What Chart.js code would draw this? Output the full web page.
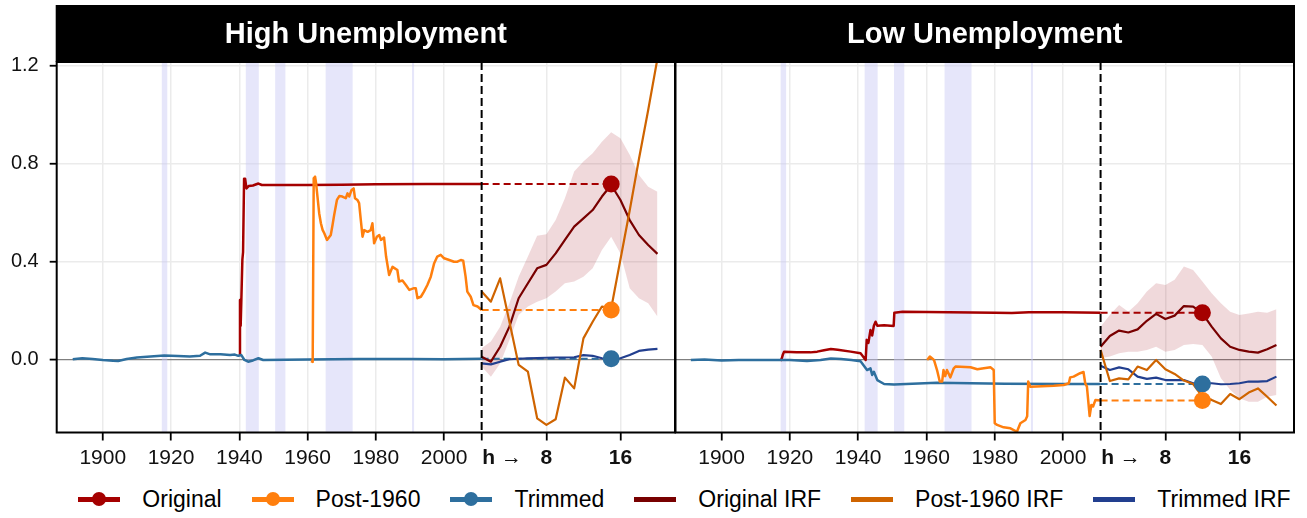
<!DOCTYPE html>
<html>
<head>
<meta charset="utf-8">
<script src="https://cdn.jsdelivr.net/npm/chart.js@4.4.0/dist/chart.umd.min.js"></script>
<style>
  body { margin: 0; background: #fff; width: 1307px; height: 518px; overflow: hidden; font-family: "Liberation Sans", Arial, sans-serif; }
  .panel { position: absolute; top: 0; height: 480px; }
  #highWrap { left: 0; width: 680px; }
  #lowWrap { left: 674px; width: 633px; }
  #legend { position: absolute; left: 62px; top: 480px; width: 1245px; height: 38px; display: flex; justify-content: center; align-items: center; font-size: 23px; color: #000; }
  .item { display: flex; align-items: center; margin: 0 15px; }
  .mk { position: relative; display: inline-block; width: 42px; height: 16px; margin-right: 22px; }
  .mk .ln { position: absolute; left: 0; top: 5.5px; width: 42px; height: 5px; }
  .mk .pt { position: absolute; left: 14px; top: 1px; width: 14px; height: 14px; border-radius: 50%; }
</style>
</head>
<body>
<div class="panel" id="highWrap"><canvas id="high"></canvas></div>
<div class="panel" id="lowWrap"><canvas id="low"></canvas></div>
<div id="legend"></div>
<script>
// ---- axes / labels ----
const PANEL_TITLES = ['High Unemployment', 'Low Unemployment'];
const YEAR_TICKS = [1900, 1920, 1940, 1960, 1980, 2000];
const H_TICKS = [8, 16];
const X_TICK_LABELS = ['1900', '1920', '1940', '1960', '1980', '2000', '       h \u2192', '8', '16'];
const Y_TICKS = [0, 0.4, 0.8, 1.2];
const SERIES_LABELS = ['Original', 'Post-1960', 'Trimmed', 'Original IRF', 'Post-1960 IRF', 'Trimmed IRF'];
const HORIZONS = [1, 2, 3, 4, 5, 6, 7, 8, 9, 10, 11, 12, 13, 14, 15, 16, 17, 18, 19, 20];
const WAR_PERIODS = [[1917.3, 1918.9], [1941.9, 1945.7], [1950.5, 1953.5], [1965.3, 1973.2], [1990.6, 1991.2]];

// ---- High unemployment: rolling estimates [year, value] ----
const HIGH_ORIGINAL = [[1940.0, 0.02], [1940.2, 0.245], [1940.4, 0.14], [1940.6, 0.245], [1940.9, 0.41], [1941.1, 0.44],
  [1941.4, 0.74], [1941.7, 0.74], [1942.1, 0.70], [1942.8, 0.71], [1944.0, 0.712], [1945.6, 0.72], [1946.6, 0.714],
  [1960, 0.714], [1970, 0.715], [1980, 0.717], [1995, 0.718], [2011, 0.718]];
const HIGH_POST1960 = [[1961.0, -0.005], [1961.5, -0.008], [1961.8, 0.741], [1962.2, 0.748], [1962.5, 0.721], [1962.9, 0.667],
  [1963.4, 0.599], [1963.9, 0.558], [1964.4, 0.531], [1964.9, 0.517], [1965.7, 0.49], [1966.8, 0.51], [1967.3, 0.55],
  [1967.8, 0.592], [1968.6, 0.653], [1969.3, 0.669], [1970.2, 0.667], [1971.2, 0.66], [1971.7, 0.68], [1972.2, 0.667],
  [1972.9, 0.694], [1973.5, 0.7], [1973.9, 0.66], [1974.6, 0.653], [1975.1, 0.64], [1975.6, 0.571], [1976.1, 0.503],
  [1976.6, 0.53], [1977.6, 0.523], [1978.5, 0.53], [1979.0, 0.558], [1979.5, 0.476], [1980.3, 0.503], [1981.0, 0.51],
  [1981.5, 0.49], [1982.4, 0.5], [1983.0, 0.422], [1983.9, 0.347], [1984.9, 0.38], [1986.3, 0.367], [1986.8, 0.32],
  [1987.8, 0.324], [1988.8, 0.306], [1989.8, 0.286], [1991.2, 0.293], [1991.7, 0.293], [1992.2, 0.252], [1993.2, 0.258],
  [1994.1, 0.279], [1995.1, 0.306], [1996.1, 0.34], [1997.1, 0.395], [1998.0, 0.422], [1999.0, 0.429], [2000.0, 0.415],
  [2001.5, 0.408], [2002.9, 0.401], [2003.9, 0.401], [2004.9, 0.408], [2005.6, 0.405], [2006.3, 0.34], [2006.8, 0.279],
  [2007.8, 0.258], [2008.6, 0.224], [2009.8, 0.218], [2011.0, 0.204]];
const HIGH_TRIMMED = [[1891.2, 0.003], [1894, 0.007], [1897, 0.004], [1900, 0.0], [1903, -0.003], [1904.5, -0.004],
  [1907, 0.004], [1910, 0.01], [1914, 0.014], [1918, 0.018], [1922, 0.016], [1925.5, 0.014], [1928.5, 0.017], [1930, 0.03],
  [1931.5, 0.023], [1934.5, 0.023], [1937.3, 0.02], [1938.7, 0.022], [1939.7, 0.017], [1940.6, 0.02], [1941.5, 0.0],
  [1942.6, -0.007], [1944, -0.002], [1945.6, 0.007], [1947, 0.0], [1960, 0.002], [1975, 0.004], [1990, 0.004],
  [2000, 0.003], [2011, 0.005]];

// ---- High unemployment: impulse responses by horizon ----
const HIGH_ORIGINAL_IRF = [0.013, -0.007, 0.054, 0.136, 0.252, 0.313, 0.374, 0.388, 0.435, 0.49, 0.544, 0.578, 0.612, 0.667, 0.714, 0.653, 0.571, 0.51, 0.469, 0.433];
const HIGH_IRF_UPPER = [0.048, 0.075, 0.136, 0.231, 0.34, 0.422, 0.507, 0.513, 0.571, 0.66, 0.769, 0.81, 0.844, 0.891, 0.929, 0.905, 0.837, 0.755, 0.707, 0.687];
const HIGH_IRF_LOWER = [-0.027, -0.068, -0.014, 0.082, 0.184, 0.218, 0.238, 0.252, 0.279, 0.313, 0.32, 0.34, 0.374, 0.449, 0.503, 0.435, 0.293, 0.252, 0.231, 0.177];
const HIGH_POST1960_IRF = [0.279, 0.238, 0.333, 0.156, -0.02, -0.048, -0.238, -0.265, -0.242, -0.072, -0.116, 0.088, 0.156, 0.218, 0.21, 0.41, 0.61, 0.82, 1.02, 1.23];
const HIGH_TRIMMED_IRF = [-0.014, -0.018, -0.007, 0.003, 0.005, 0.007, 0.008, 0.009, 0.01, 0.01, 0.011, 0.02, 0.017, 0.007, 0.0, 0.007, 0.02, 0.037, 0.042, 0.045];
const HIGH_DOT_H = 15;

// ---- Low unemployment: rolling estimates [year, value] ----
const LOW_ORIGINAL = [[1917.1, 0.004], [1917.5, 0.0], [1917.9, 0.02], [1918.3, 0.034], [1922, 0.032], [1926, 0.031],
  [1928, 0.034], [1930, 0.04], [1932, 0.045], [1934, 0.042], [1937.8, 0.034], [1940.7, 0.027], [1942.2, 0.0],
  [1942.5, 0.082], [1943.0, 0.07], [1943.6, 0.122], [1944.1, 0.1], [1944.6, 0.14], [1945.1, 0.156], [1945.6, 0.14],
  [1947.6, 0.142], [1950.4, 0.139], [1950.6, 0.193], [1953, 0.197], [1960, 0.196], [1980, 0.193], [1985, 0.192],
  [1990, 0.195], [2000, 0.195], [2011, 0.193]];
const LOW_POST1960 = [[1960.2, 0.0], [1961.0, 0.014], [1962.2, 0.0], [1963.1, -0.041], [1963.9, -0.088], [1964.6, -0.088],
  [1965.0, -0.041], [1965.5, -0.066], [1966.0, -0.041], [1967.0, -0.071], [1968.0, -0.034], [1968.5, -0.027],
  [1972.9, -0.03], [1974.9, -0.038], [1976.8, -0.034], [1978.8, -0.03], [1979.7, -0.041], [1980.0, -0.258],
  [1980.7, -0.265], [1982.6, -0.275], [1984.6, -0.279], [1986.5, -0.293], [1987.5, -0.258], [1989.0, -0.245],
  [1989.5, -0.23], [1989.8, -0.088], [1990.4, -0.109], [1997.3, -0.105], [2000.2, -0.102], [2001.7, -0.095],
  [2002.1, -0.071], [2003.1, -0.068], [2005.0, -0.054], [2006.0, -0.049], [2006.5, -0.095], [2007.0, -0.109],
  [2007.8, -0.229], [2008.3, -0.184], [2008.8, -0.19], [2009.5, -0.163], [2011.0, -0.165]];
const LOW_TRIMMED = [[1891, 0.0], [1895, 0.002], [1900, -0.002], [1905, 0.0], [1910, 0.0], [1915, 0.0], [1920, 0.0],
  [1925, -0.004], [1929, 0.0], [1932, 0.006], [1935, 0.004], [1938, 0.0], [1940.7, -0.005], [1942.6, -0.041],
  [1943.6, -0.034], [1944.1, -0.061], [1944.6, -0.048], [1945.6, -0.082], [1947.6, -0.098], [1950.5, -0.1],
  [1963, -0.093], [1983, -0.097], [2000, -0.098], [2011, -0.098]];

// ---- Low unemployment: impulse responses by horizon ----
const LOW_ORIGINAL_IRF = [0.054, 0.098, 0.12, 0.112, 0.125, 0.16, 0.188, 0.167, 0.181, 0.22, 0.218, 0.19, 0.136, 0.088, 0.054, 0.041, 0.034, 0.03, 0.044, 0.061];
const LOW_IRF_UPPER = [0.136, 0.184, 0.224, 0.197, 0.231, 0.279, 0.313, 0.306, 0.327, 0.381, 0.367, 0.32, 0.272, 0.231, 0.197, 0.184, 0.19, 0.197, 0.193, 0.207];
const LOW_IRF_LOWER = [0.007, 0.014, 0.027, 0.034, 0.034, 0.041, 0.054, 0.034, 0.041, 0.061, 0.065, 0.061, 0.014, -0.075, -0.122, -0.156, -0.17, -0.17, -0.15, -0.143];
const LOW_POST1960_IRF = [0.041, -0.086, -0.075, -0.079, -0.027, -0.041, 0.0, -0.038, -0.057, -0.084, -0.098, -0.15, -0.163, -0.18, -0.139, -0.16, -0.133, -0.116, -0.15, -0.186];
const LOW_TRIMMED_IRF = [-0.024, -0.041, -0.03, -0.038, -0.068, -0.077, -0.072, -0.082, -0.082, -0.082, -0.095, -0.095, -0.095, -0.099, -0.098, -0.095, -0.088, -0.088, -0.086, -0.068];
const LOW_DOT_H = 12;

// ---- scale layout ----
const YEAR_MIN = 1886.5, YEAR_MAX = 2067.65;
const IRF_START_YEAR = 2011, YEARS_PER_H = 2.711;
const Y_MIN = -0.296, Y_MAX = 1.216;

const COLORS = ['#A50000', '#FF7F0E', '#2E6F9E', '#780000', '#CF6400', '#223F8F'];
const BAND_COLOR = 'rgba(175, 55, 65, 0.19)';
const WAR_COLOR = 'rgba(200, 200, 245, 0.45)';

Chart.defaults.font.family = '"Liberation Sans", Arial, sans-serif';
Chart.defaults.color = '#111';

const hYear = h => IRF_START_YEAR + (h - 1) * YEARS_PER_H;
const H_MIN = 1 + (YEAR_MIN - IRF_START_YEAR) / YEARS_PER_H;
const H_MAX = 1 + (YEAR_MAX - IRF_START_YEAR) / YEARS_PER_H;

const panelPlugin = {
    id: 'panel',
    beforeDraw(chart, args, opts) {
        const { ctx, chartArea: a } = chart;
        ctx.save();
        ctx.fillStyle = '#000';
        ctx.fillRect(a.left - 1, 5, a.right - a.left + 2, a.top - 5);
        ctx.fillStyle = '#fff';
        ctx.font = 'bold 29px "Liberation Sans", Arial, sans-serif';
        ctx.textAlign = 'center';
        ctx.textBaseline = 'middle';
        ctx.fillText(opts.title, (a.left + a.right) / 2, (5 + a.top) / 2 + 1);
        ctx.restore();
    },
    beforeDatasetsDraw(chart) {
        const { ctx, chartArea: a, scales: { x } } = chart;
        ctx.save();
        ctx.fillStyle = WAR_COLOR;
        WAR_PERIODS.forEach(([s, e]) => {
            const x0 = x.getPixelForValue(s), x1 = x.getPixelForValue(e);
            ctx.fillRect(x0, a.top, Math.max(x1 - x0, 1.5), a.bottom - a.top);
        });
        ctx.restore();
    },
    afterDatasetsDraw(chart) {
        const { ctx, chartArea: a, scales: { x } } = chart;
        const px = x.getPixelForValue(IRF_START_YEAR);
        ctx.save();
        ctx.strokeStyle = '#000';
        ctx.lineWidth = 2;
        ctx.setLineDash([8, 4]);
        ctx.beginPath();
        ctx.moveTo(px, a.top);
        ctx.lineTo(px, a.bottom);
        ctx.stroke();
        ctx.restore();
    },
    afterDraw(chart) {
        const { ctx, chartArea: a } = chart;
        ctx.save();
        ctx.strokeStyle = '#000';
        ctx.lineWidth = 2;
        ctx.strokeRect(a.left, a.top, a.right - a.left, a.bottom - a.top);
        ctx.restore();
    }
};

function buildPanel(canvasId, title, showY, s) {
    const pts = arr => arr.map(([x, y]) => ({ x, y }));
    const irf = arr => HORIZONS.map((h, i) => ({ x: h, y: arr[i] }));
    const last = arr => arr[arr.length - 1][1];

    const hist = (label, arr, color, order) => ({ label, data: pts(arr), xAxisID: 'x', borderColor: color, borderWidth: 2.5, order });
    const resp = (label, arr, color, order) => ({ label, data: irf(arr), xAxisID: 'xh', borderColor: color, borderWidth: 2.2, order });
    const guide = (arr, color) => ({
        data: [{ x: 1, y: last(arr) }, { x: s.dotH, y: last(arr) }], xAxisID: 'xh',
        borderColor: color, borderWidth: 2, borderDash: [7, 4], order: 15
    });
    const dot = (arr, color) => ({
        data: [{ x: s.dotH, y: last(arr) }], xAxisID: 'xh', showLine: false,
        pointRadius: 8.5, pointBackgroundColor: color, pointBorderWidth: 0, order: 1
    });

    const datasets = [
        { data: irf(s.upper), xAxisID: 'xh', borderWidth: 0, fill: '+1', backgroundColor: BAND_COLOR, order: 30 },
        { data: irf(s.lower), xAxisID: 'xh', borderWidth: 0, fill: false, order: 30 },
        guide(s.original, COLORS[0]), guide(s.post, COLORS[1]), guide(s.trimmed, COLORS[2]),
        hist(SERIES_LABELS[0], s.original, COLORS[0], 12),
        hist(SERIES_LABELS[2], s.trimmed, COLORS[2], 11),
        hist(SERIES_LABELS[1], s.post, COLORS[1], 10),
        resp(SERIES_LABELS[3], s.originalIrf, COLORS[3], 9),
        resp(SERIES_LABELS[5], s.trimmedIrf, COLORS[5], 8),
        resp(SERIES_LABELS[4], s.postIrf, COLORS[4], 7),
        dot(s.original, COLORS[0]), dot(s.post, COLORS[1]), dot(s.trimmed, COLORS[2])
    ];
    datasets.forEach(d => { d.clip = 0; });

    return new Chart(document.getElementById(canvasId), {
        type: 'line',
        data: { datasets },
        plugins: [panelPlugin],
        options: {
            responsive: true,
            maintainAspectRatio: false,
            animation: false,
            events: [],
            layout: { autoPadding: false, padding: { top: 62, right: showY ? 5 : 13, left: 0, bottom: 0 } },
            elements: {
                line: { tension: 0, borderJoinStyle: 'round', fill: false },
                point: { radius: 0 }
            },
            plugins: {
                legend: { display: false },
                tooltip: { enabled: false },
                panel: { title }
            },
            scales: {
                x: {
                    type: 'linear',
                    min: YEAR_MIN,
                    max: YEAR_MAX,
                    afterBuildTicks: axis => {
                        axis.ticks = YEAR_TICKS.concat([IRF_START_YEAR], H_TICKS.map(hYear)).map(v => ({ value: v }));
                    },
                    afterFit: axis => {
                        axis.height = 47.5;
                        axis.paddingLeft = 0;
                        axis.paddingRight = 0;
                    },
                    ticks: {
                        autoSkip: false,
                        maxRotation: 0,
                        padding: 5,
                        color: '#111',
                        font: c => ({ size: 21, weight: c.index >= YEAR_TICKS.length ? 'bold' : 'normal' }),
                        callback: (v, i) => X_TICK_LABELS[i]
                    },
                    grid: {
                        color: c => (c.tick && c.tick.value === IRF_START_YEAR ? 'rgba(0,0,0,0)' : '#EBEBEB'),
                        lineWidth: 1.5,
                        tickColor: '#000',
                        tickLength: 8,
                        tickWidth: 1.8
                    },
                    border: { display: false }
                },
                xh: { type: 'linear', display: false, min: H_MIN, max: H_MAX },
                y: {
                    type: 'linear',
                    min: Y_MIN,
                    max: Y_MAX,
                    afterBuildTicks: axis => { axis.ticks = Y_TICKS.map(v => ({ value: v })); },
                    afterFit: axis => {
                        axis.width = showY ? 56.7 : 1.5;
                        axis.paddingTop = 0;
                        axis.paddingBottom = 0;
                    },
                    ticks: {
                        display: showY,
                        padding: 11,
                        color: '#111',
                        font: { size: 20 },
                        callback: v => v.toFixed(1)
                    },
                    grid: {
                        color: c => (c.tick && c.tick.value === 0 ? '#7F7F7F' : '#EBEBEB'),
                        lineWidth: c => (c.tick && c.tick.value === 0 ? 1.2 : 1.5),
                        drawTicks: showY,
                        tickColor: '#000',
                        tickLength: 7,
                        tickWidth: 1.8
                    },
                    border: { display: false }
                }
            }
        }
    });
}

buildPanel('high', PANEL_TITLES[0], true, {
    original: HIGH_ORIGINAL, post: HIGH_POST1960, trimmed: HIGH_TRIMMED,
    originalIrf: HIGH_ORIGINAL_IRF, postIrf: HIGH_POST1960_IRF, trimmedIrf: HIGH_TRIMMED_IRF,
    upper: HIGH_IRF_UPPER, lower: HIGH_IRF_LOWER, dotH: HIGH_DOT_H
});
buildPanel('low', PANEL_TITLES[1], false, {
    original: LOW_ORIGINAL, post: LOW_POST1960, trimmed: LOW_TRIMMED,
    originalIrf: LOW_ORIGINAL_IRF, postIrf: LOW_POST1960_IRF, trimmedIrf: LOW_TRIMMED_IRF,
    upper: LOW_IRF_UPPER, lower: LOW_IRF_LOWER, dotH: LOW_DOT_H
});

// Shared legend below both panels
const legendEl = document.getElementById('legend');
SERIES_LABELS.forEach((label, i) => {
    const item = document.createElement('span');
    item.className = 'item';
    const dotHtml = i < 3 ? `<span class="pt" style="background:${COLORS[i]}"></span>` : '';
    item.innerHTML = `<span class="mk"><span class="ln" style="background:${COLORS[i]}"></span>${dotHtml}</span><span>${label}</span>`;
    legendEl.appendChild(item);
});
</script>
</body>
</html>
